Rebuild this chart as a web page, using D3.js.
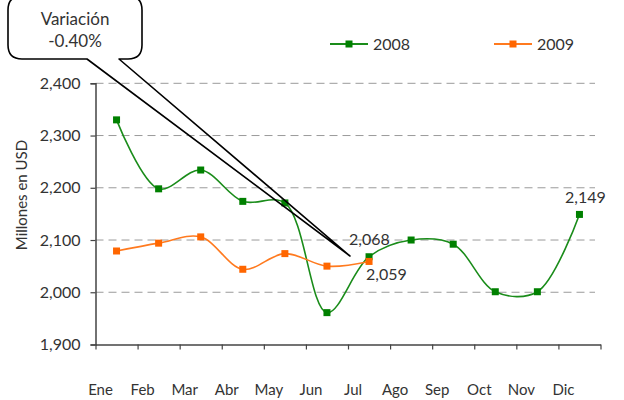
<!DOCTYPE html>
<html>
<head>
<meta charset="utf-8">
<script src="https://cdn.jsdelivr.net/npm/d3@7"></script>
<style>
  body { margin: 0; background: #fff; }
  text { font-family: Lato, "Open Sans", sans-serif; fill: #333; }
</style>
</head>
<body>
<svg id="chart" width="624" height="400"></svg>
<script>
// Data
const months = ["Ene", "Feb", "Mar", "Abr", "May", "Jun", "Jul", "Ago", "Sep", "Oct", "Nov", "Dic"];
const values2008 = [2330, 2198, 2234, 2174, 2171, 1961, 2068, 2100, 2092, 2001, 2001, 2149];
const values2009 = [2079, 2094, 2106, 2044, 2074, 2050, 2059];
const yTicks = [1900, 2000, 2100, 2200, 2300, 2400];

const svg = d3.select("#chart");

// Plot area
const plotLeft = 95.5, plotRight = 600.5, plotTop = 83.3, plotBottom = 344.5;
const gridRight = 595;

const xBand = d3.scaleBand().domain(months).range([plotLeft, plotRight]);
const xEdge = d3.scaleLinear().domain([0, months.length]).range([plotLeft, plotRight]);
const yScale = d3.scaleLinear().domain([1900, 2400]).range([plotBottom, plotTop]);

const xPos = m => xBand(m) + xBand.bandwidth() / 2;

// Gridlines
svg.append("g")
    .selectAll("line")
    .data(yTicks.filter(t => t > 1900))
    .join("line")
    .attr("x1", plotLeft)
    .attr("x2", gridRight)
    .attr("y1", d => yScale(d))
    .attr("y2", d => yScale(d))
    .attr("stroke", "#9a9a9a")
    .attr("stroke-width", 1)
    .attr("stroke-dasharray", "8,5");

// Y axis
const yAxis = svg.append("g")
    .attr("transform", `translate(${plotLeft}, 0)`)
    .call(d3.axisLeft(yScale).tickValues(yTicks).tickFormat(d3.format(",")).tickSize(5).tickPadding(10));
yAxis.select(".domain").attr("stroke", "#444").attr("stroke-width", 1.5);
yAxis.selectAll(".tick line").attr("stroke", "#444").attr("stroke-width", 1.2);
yAxis.selectAll(".tick text").style("font-size", "16px").style("font-family", "Lato").attr("fill", "#333");

// X axis (ticks on band edges)
const xAxis = svg.append("g")
    .attr("transform", `translate(0, ${plotBottom})`)
    .call(d3.axisBottom(xEdge).tickValues(d3.range(months.length + 1)).tickFormat("").tickSize(5).tickSizeOuter(0));
xAxis.select(".domain").attr("stroke", "#444").attr("stroke-width", 1.5);
xAxis.selectAll(".tick line").attr("stroke", "#444").attr("stroke-width", 1.2);

svg.append("g")
    .selectAll("text")
    .data(months)
    .join("text")
    .attr("x", d => xPos(d) - 16)
    .attr("y", 395)
    .attr("text-anchor", "middle")
    .style("font-size", "15px")
    .text(d => d);

// Y title
svg.append("text")
    .attr("transform", "translate(27, 195) rotate(-90)")
    .attr("text-anchor", "middle")
    .style("font-size", "15px")
    .text("Millones en USD");

// Lines
const series = [
    { name: "2008", values: values2008, line: "#1a8c1a", marker: "#008000" },
    { name: "2009", values: values2009, line: "#ff7a1f", marker: "#ff6600" }
];

const lineGen = d3.line()
    .x((d, i) => xPos(months[i]))
    .y(d => yScale(d))
    .curve(d3.curveCatmullRom.alpha(0.5));

series.forEach(s => {
    svg.append("path")
        .datum(s.values)
        .attr("fill", "none")
        .attr("stroke", s.line)
        .attr("stroke-width", 1.6)
        .attr("d", lineGen);

    svg.append("g")
        .selectAll("rect")
        .data(s.values)
        .join("rect")
        .attr("x", (d, i) => xPos(months[i]) - 3.5)
        .attr("y", d => yScale(d) - 3.5)
        .attr("width", 7)
        .attr("height", 7)
        .attr("fill", s.marker);
});

// Data labels
const fmt = d3.format(",");
const lastJul = 6;
svg.append("text")
    .attr("x", xPos(months[lastJul]) - 20)
    .attr("y", yScale(values2008[lastJul]) - 12)
    .style("font-size", "16px")
    .text(fmt(values2008[lastJul]));
svg.append("text")
    .attr("x", xPos(months[lastJul]) - 3)
    .attr("y", yScale(values2009[lastJul]) + 19)
    .style("font-size", "16px")
    .text(fmt(values2009[lastJul]));
svg.append("text")
    .attr("x", xPos(months[11]) + 6)
    .attr("y", yScale(values2008[11]) - 11)
    .attr("text-anchor", "middle")
    .style("font-size", "16px")
    .text(fmt(values2008[11]));

// Legend
const legend = svg.append("g");
const legendX = [330, 494];
series.forEach((s, i) => {
    const g = legend.append("g").attr("transform", `translate(${legendX[i]}, 44)`);
    g.append("line").attr("x1", 0).attr("x2", 38).attr("y1", 0).attr("y2", 0)
        .attr("stroke", s.line).attr("stroke-width", 2);
    g.append("rect").attr("x", 15.5).attr("y", -3.5).attr("width", 7).attr("height", 7)
        .attr("fill", s.marker);
    g.append("text").attr("x", 43).attr("y", 6).style("font-size", "16px").text(s.name);
});

// Callout
const bx0 = 8, bx1 = 142, by0 = -4, by1 = 59, r = 14;
const tip = [350, 256];
const callout = `M${bx0 + r},${by0} H${bx1 - r} Q${bx1},${by0} ${bx1},${by0 + r} V${by1 - r} Q${bx1},${by1} ${bx1 - r},${by1}
  H119 L${tip[0]},${tip[1]} L87,${by1} H${bx0 + r} Q${bx0},${by1} ${bx0},${by1 - r} V${by0 + r} Q${bx0},${by0} ${bx0 + r},${by0} Z`;
svg.append("path")
    .attr("d", callout)
    .attr("fill", "none")
    .attr("stroke", "#000")
    .attr("stroke-width", 1.6)
    .attr("stroke-linejoin", "round");

svg.append("text").attr("x", 75).attr("y", 25).attr("text-anchor", "middle")
    .style("font-size", "17px").text("Variación");
svg.append("text").attr("x", 75).attr("y", 47).attr("text-anchor", "middle")
    .style("font-size", "17px").text("-0.40%");
</script>
</body>
</html>
